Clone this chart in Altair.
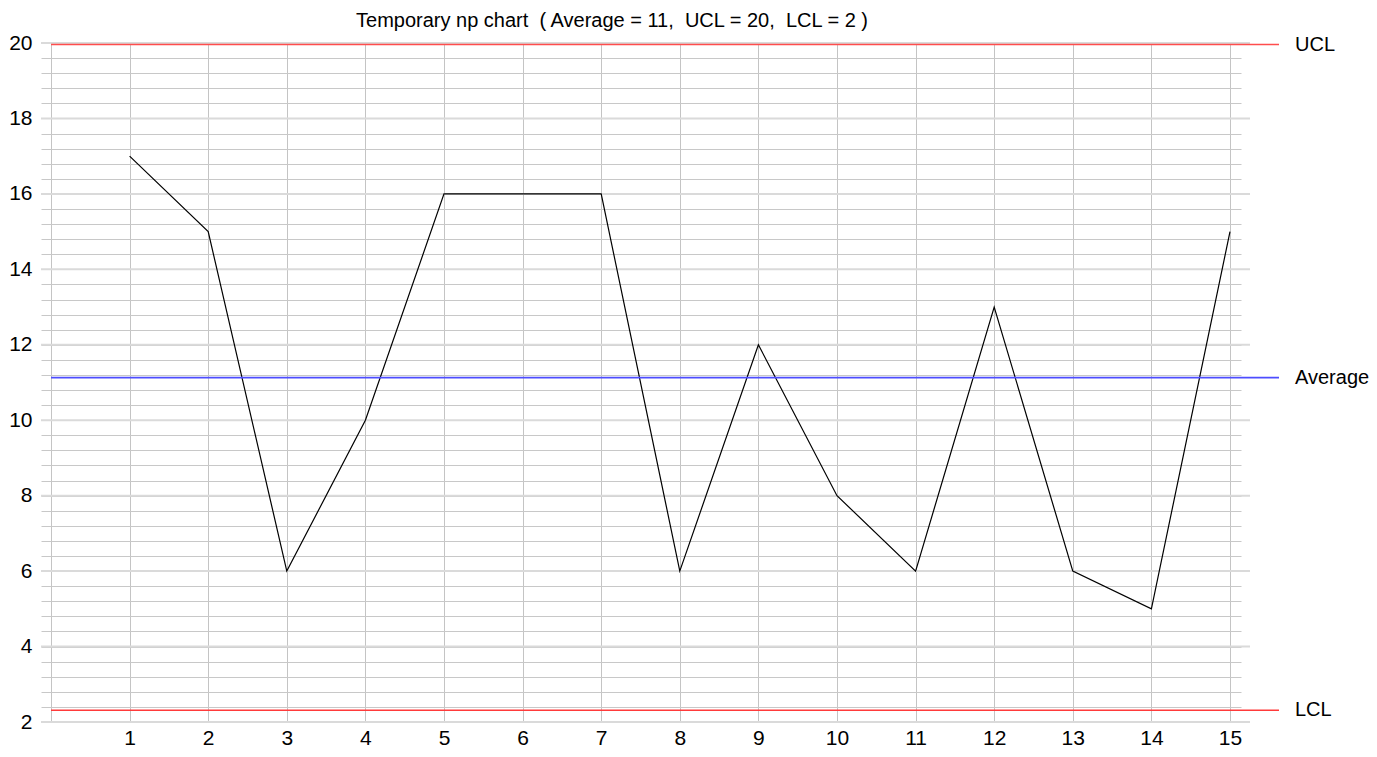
import altair as alt
import pandas as pd

samples = list(range(1, 16))
counts = [17, 15, 6, 10, 16, 16, 16, 6, 12, 8, 6, 13, 6, 5, 15]

limit_names = ["UCL", "Average", "LCL"]
limit_values = [19.96, 11.13, 2.31]
limit_colors = ["#ff4d4d", "#4d4dff", "#ff3a3a"]

major_y = [2, 4, 6, 8, 10, 12, 14, 16, 18, 20]
minor_y = [round(2 + 0.4 * i, 1) for i in range(46)]
x_ticks = list(range(0, 16))

NB = "\u00a0"
title_text = [f"Temporary np chart {NB}( Average = 11, {NB}UCL = 20, {NB}LCL = 2 )"]
FONT = "Liberation Sans"

df = pd.DataFrame({"sample": samples, "count": counts})
lim = pd.DataFrame({"name": limit_names, "value": limit_values, "color": limit_colors})
maj = pd.DataFrame({"v": major_y})
ttl = pd.DataFrame({"t": title_text})

xscale = alt.Scale(domain=[0, 15.14], nice=False, zero=False)
yscale = alt.Scale(domain=[2, 20], nice=False, zero=False)

x_axis = alt.Axis(
    values=x_ticks,
    grid=True,
    gridColor="#c4c4c4",
    gridWidth=1,
    ticks=False,
    domain=False,
    labelExpr="datum.value == 0 ? '' : datum.label",
    labelFont=FONT,
    labelFontSize=21,
    labelColor="#000",
    labelPadding=5,
    labelOverlap=False,
    labelBound=False,
    labelFlush=False,
)
y_axis = alt.Axis(
    values=minor_y,
    grid=True,
    gridColor="#c8c8c8",
    gridWidth=1,
    ticks=True,
    tickSize=10,
    tickColor="#c8c8c8",
    domain=False,
    labelExpr="abs(datum.value - round(datum.value / 2) * 2) < 0.01 ? format(datum.value, 'd') : ''",
    labelFont=FONT,
    labelFontSize=21,
    labelColor="#000",
    labelPadding=9,
    labelOverlap=False,
    labelBound=False,
    labelFlush=False,
)

majors = alt.Chart(maj).mark_rule(color="#dadada", strokeWidth=2).encode(
    y=alt.Y("v:Q", scale=yscale, axis=y_axis, title=None),
    x=alt.value(-10),
    x2=alt.value(1199),
)

line = alt.Chart(df).mark_line(color="#000", strokeWidth=1.2).encode(
    x=alt.X("sample:Q", scale=xscale, axis=x_axis, title=None),
    y=alt.Y("count:Q", scale=yscale, axis=y_axis, title=None),
)

limits = alt.Chart(lim).mark_rule(strokeWidth=1.6).encode(
    y=alt.Y("value:Q", scale=yscale, axis=y_axis, title=None),
    x=alt.value(0),
    x2=alt.value(1228),
    color=alt.Color("color:N", scale=None, legend=None),
)

limit_text = alt.Chart(lim).mark_text(
    align="left", baseline="middle", font=FONT, fontSize=20, color="#000"
).encode(
    y=alt.Y("value:Q", scale=yscale, axis=y_axis, title=None),
    x=alt.value(1244),
    text="name:N",
)

title = alt.Chart(ttl).mark_text(
    align="center", baseline="alphabetic", font=FONT, fontSize=20, color="#000"
).encode(
    x=alt.value(561),
    y=alt.value(-16),
    text="t:N",
)

chart = (
    alt.layer(majors, line, limits, limit_text, title)
    .properties(
        width=1190,
        height=679,
        padding={"left": 43, "top": 35, "right": 128, "bottom": 27},
        autosize=alt.AutoSizeParams(type="none"),
    )
    .configure_view(stroke=None)
)

chart.save("out.html", embed_options={"renderer": "svg", "actions": False})
